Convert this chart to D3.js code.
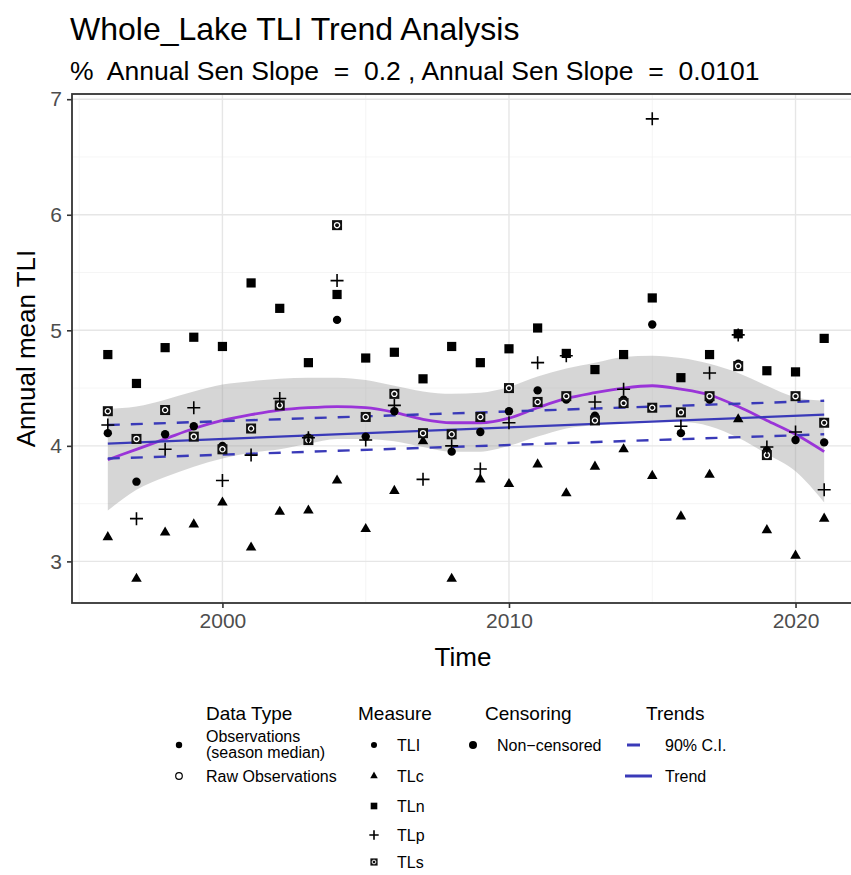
<!DOCTYPE html>
<meta charset="utf-8">
<style>
body { margin: 0; background: #fff; }
text { font-family: "Liberation Sans", Arial, sans-serif; }
</style>
<body>
<script src="https://cdnjs.cloudflare.com/ajax/libs/d3/7.8.5/d3.min.js"></script>
<script>
var years = [1996, 1997, 1998, 1999, 2000, 2001, 2002, 2003, 2004, 2005, 2006, 2007, 2008,
             2009, 2010, 2011, 2012, 2013, 2014, 2015, 2016, 2017, 2018, 2019, 2020, 2021];

var tli = [4.11, 3.69, 4.10, 4.17, 4.00, 4.15, 4.35, 4.07, 5.09, 4.08, 4.30, 4.11, 3.95,
           4.12, 4.30, 4.48, 4.40, 4.26, 4.40, 5.05, 4.11, 4.40, 4.71, 3.96, 4.05, 4.03];
var tlc = [3.21, 2.85, 3.25, 3.32, 3.51, 3.12, 3.43, 3.44, 3.70, 3.28, 3.61, 4.04, 2.85,
           3.71, 3.67, 3.84, 3.59, 3.82, 3.97, 3.74, 3.39, 3.75, 4.23, 3.27, 3.05, 3.37];
var tln = [4.79, 4.54, 4.85, 4.94, 4.86, 5.41, 5.19, 4.72, 5.31, 4.76, 4.81, 4.58, 4.86,
           4.72, 4.84, 5.02, 4.80, 4.66, 4.79, 5.28, 4.59, 4.79, 4.97, 4.65, 4.64, 4.93];
var tlp = [4.18, 3.37, 3.97, 4.33, 3.70, 3.92, 4.41, 4.07, 5.43, 4.05, 4.35, 3.71, 4.00,
           3.80, 4.20, 4.72, 4.78, 4.38, 4.49, 6.83, 4.17, 4.63, 4.96, 3.99, 4.12, 3.62];
var tls = [4.30, 4.06, 4.31, 4.08, 3.97, 4.15, 4.35, 4.05, 5.91, 4.25, 4.45, 4.11, 4.10,
           4.25, 4.50, 4.38, 4.43, 4.22, 4.37, 4.33, 4.29, 4.43, 4.69, 3.92, 4.43, 4.20];

// loess smooth and its band, read per year
var smoothFit = [3.88, 3.97, 4.06, 4.15, 4.22, 4.27, 4.31, 4.33, 4.34, 4.33, 4.29, 4.23, 4.20,
                 4.20, 4.24, 4.33, 4.41, 4.46, 4.50, 4.52, 4.49, 4.44, 4.34, 4.22, 4.10, 3.95];
var smoothLo = [3.44, 3.62, 3.73, 3.82, 3.89, 3.94, 3.97, 4.02, 4.06, 4.06, 4.04, 3.99, 3.95,
                3.95, 4.00, 4.08, 4.15, 4.18, 4.21, 4.22, 4.21, 4.17, 4.07, 3.93, 3.78, 3.51];
var smoothHi = [4.32, 4.34, 4.40, 4.47, 4.53, 4.56, 4.58, 4.59, 4.59, 4.57, 4.52, 4.47, 4.45,
                4.46, 4.51, 4.60, 4.67, 4.72, 4.77, 4.78, 4.76, 4.71, 4.63, 4.52, 4.42, 4.39];

// sen slope trend and 90% CI, values at first and last year
var trendYears = [1996, 2021];
var trendLine = [4.02, 4.27];
var ciLower = [3.89, 4.10];
var ciUpper = [4.18, 4.39];

var xTicks = [2000, 2010, 2020];
var xMinor = [1995, 2005, 2015];
var yTicks = [3, 4, 5, 6, 7];
var yMinor = [3.5, 4.5, 5.5, 6.5];

var measureNames = ['TLI', 'TLc', 'TLn', 'TLp', 'TLs'];
var dataTypeNames = ['Observations\n(season median)', 'Raw Observations'];
var trendNames = ['90% C.I.', 'Trend'];

var width = 851, height = 875;
var panel = {left: 72, right: 860, top: 94, bottom: 603};

var x = d3.scaleLinear().domain([1994.75, 2022.25]).range([panel.left, panel.right]);
var y = d3.scaleLinear().domain([2.64, 7.045]).range([panel.bottom, panel.top]);

var svg = d3.select('body').append('svg')
    .attr('width', width)
    .attr('height', height);

svg.append('defs').append('clipPath').attr('id', 'clip')
  .append('rect')
    .attr('x', panel.left).attr('y', panel.top)
    .attr('width', panel.right - panel.left).attr('height', panel.bottom - panel.top);

// grid
var grid = svg.append('g');
grid.selectAll('.ymin').data(yMinor).enter().append('line')
    .attr('x1', panel.left).attr('x2', panel.right)
    .attr('y1', y).attr('y2', y)
    .attr('stroke', '#f2f2f2').attr('stroke-width', 0.8);
grid.selectAll('.xmin').data(xMinor).enter().append('line')
    .attr('y1', panel.top).attr('y2', panel.bottom)
    .attr('x1', x).attr('x2', x)
    .attr('stroke', '#f2f2f2').attr('stroke-width', 0.8);
grid.selectAll('.ymaj').data(yTicks).enter().append('line')
    .attr('x1', panel.left).attr('x2', panel.right)
    .attr('y1', y).attr('y2', y)
    .attr('stroke', '#e6e6e6').attr('stroke-width', 1.4);
grid.selectAll('.xmaj').data(xTicks).enter().append('line')
    .attr('y1', panel.top).attr('y2', panel.bottom)
    .attr('x1', x).attr('x2', x)
    .attr('stroke', '#e6e6e6').attr('stroke-width', 1.4);

var plot = svg.append('g').attr('clip-path', 'url(#clip)');

// smooth ribbon + line
var band = d3.area()
    .x(function(d, i) { return x(years[i]); })
    .y0(function(d, i) { return y(smoothLo[i]); })
    .y1(function(d, i) { return y(smoothHi[i]); })
    .curve(d3.curveMonotoneX);

plot.append('path')
    .datum(years)
    .attr('d', band)
    .attr('fill', '#999')
    .attr('fill-opacity', 0.4);

var smoothLine = d3.line()
    .x(function(d, i) { return x(years[i]); })
    .y(function(d) { return y(d); })
    .curve(d3.curveMonotoneX);

plot.append('path')
    .datum(smoothFit)
    .attr('d', smoothLine)
    .attr('fill', 'none')
    .attr('stroke', '#9a34d8')
    .attr('stroke-width', 2.8);

var straight = d3.line()
    .x(function(d, i) { return x(trendYears[i]); })
    .y(function(d) { return y(d); });

[ciLower, ciUpper].forEach(function(ci) {
  plot.append('path')
      .datum(ci)
      .attr('d', straight)
      .attr('fill', 'none')
      .attr('stroke', '#3a3ab8')
      .attr('stroke-width', 2.4)
      .attr('stroke-dasharray', '12,11');
});

plot.append('path')
    .datum(trendLine)
    .attr('d', straight)
    .attr('fill', 'none')
    .attr('stroke', '#3a3ab8')
    .attr('stroke-width', 2.2);

// point glyphs
function glyph(g, shape, s) {
  if (shape === 'TLI') {
    g.append('circle').attr('r', 4.2 * s).attr('fill', '#000');
  } else if (shape === 'TLc') {
    g.append('path').attr('d', d3.symbol().type(d3.symbolTriangle).size(48 * s * s)).attr('fill', '#000');
  } else if (shape === 'TLn') {
    g.append('rect').attr('x', -4.6 * s).attr('y', -4.6 * s)
        .attr('width', 9.2 * s).attr('height', 9.2 * s).attr('fill', '#000');
  } else if (shape === 'TLp') {
    var r = 6.5 * s;
    g.append('path').attr('d', 'M' + (-r) + ',0H' + r + 'M0,' + (-r) + 'V' + r)
        .attr('stroke', '#000').attr('stroke-width', 1.6).attr('fill', 'none');
  } else if (shape === 'TLs') {
    g.append('rect').attr('x', -5 * s).attr('y', -5 * s)
        .attr('width', 10 * s).attr('height', 10 * s).attr('fill', '#111');
    g.append('circle').attr('r', 2.6 * s).attr('fill', 'none')
        .attr('stroke', '#fff').attr('stroke-width', 1.3 * s);
  }
}

var measures = [
  {key: 'TLI', values: tli},
  {key: 'TLc', values: tlc},
  {key: 'TLn', values: tln},
  {key: 'TLs', values: tls},
  {key: 'TLp', values: tlp}
];

measures.forEach(function(m) {
  plot.selectAll('.pt-' + m.key)
      .data(m.values)
    .enter().append('g')
      .attr('class', 'pt-' + m.key)
      .attr('transform', function(d, i) { return 'translate(' + x(years[i]) + ',' + y(d) + ')'; })
      .each(function() { glyph(d3.select(this), m.key, 1); });
});

// panel border
svg.append('rect')
    .attr('x', panel.left).attr('y', panel.top)
    .attr('width', panel.right - panel.left).attr('height', panel.bottom - panel.top)
    .attr('fill', 'none').attr('stroke', '#333').attr('stroke-width', 1.8);

// axes
var xAxis = d3.axisBottom(x).tickValues(xTicks).tickSize(5).tickPadding(5).tickFormat(d3.format('d'));
var yAxis = d3.axisLeft(y).tickValues(yTicks).tickSize(5).tickPadding(5).tickFormat(d3.format('d'));

var gx = svg.append('g')
    .attr('transform', 'translate(0,' + panel.bottom + ')')
    .call(xAxis);
var gy = svg.append('g')
    .attr('transform', 'translate(' + panel.left + ',0)')
    .call(yAxis);

[gx, gy].forEach(function(g) {
  g.select('.domain').remove();
  g.selectAll('line').attr('stroke', '#333').attr('stroke-width', 1.6);
  g.selectAll('text')
      .attr('fill', '#4d4d4d')
      .style('font-size', '21px')
      .style('font-family', '"Liberation Sans", Arial, sans-serif');
});

svg.append('text')
    .attr('x', 463)
    .attr('y', 666)
    .attr('text-anchor', 'middle')
    .style('font-size', '26px')
    .text('Time');

svg.append('text')
    .attr('transform', 'translate(35,' + (panel.top + panel.bottom) / 2 + ') rotate(-90)')
    .attr('text-anchor', 'middle')
    .style('font-size', '26px')
    .text('Annual mean TLI');

svg.append('text')
    .attr('x', 70).attr('y', 40)
    .style('font-size', '32px')
    .text('Whole_Lake TLI Trend Analysis');

svg.append('text')
    .attr('x', 70).attr('y', 80)
    .style('font-size', '26.5px')
    .attr('xml:space', 'preserve')
    .text('%  Annual Sen Slope  =  0.2 , Annual Sen Slope  =  0.0101');

// legend
var legend = svg.append('g').style('font-size', '16px');

function legendTitle(tx, label) {
  legend.append('text').attr('x', tx).attr('y', 720).style('font-size', '19px').text(label);
}

legendTitle(206, 'Data Type');
legendTitle(358, 'Measure');
legendTitle(485, 'Censoring');
legendTitle(646, 'Trends');

var rowY = [745, 776, 806, 835, 862];

// data type
legend.append('circle').attr('cx', 179).attr('cy', rowY[0]).attr('r', 3.2).attr('fill', '#000');
legend.append('circle').attr('cx', 179).attr('cy', rowY[1]).attr('r', 3.3)
    .attr('fill', 'none').attr('stroke', '#000').attr('stroke-width', 1.2);
dataTypeNames[0].split('\n').forEach(function(line, i) {
  legend.append('text').attr('x', 206).attr('y', rowY[0] - 3 + i * 16).text(line);
});
legend.append('text').attr('x', 206).attr('y', rowY[1] + 6).text(dataTypeNames[1]);

// measure
measureNames.forEach(function(name, i) {
  var g = legend.append('g').attr('transform', 'translate(374,' + rowY[i] + ')');
  glyph(g, name, 0.72);
  legend.append('text').attr('x', 397).attr('y', rowY[i] + 6).text(name);
});

// censoring
legend.append('circle').attr('cx', 473).attr('cy', rowY[0]).attr('r', 4).attr('fill', '#000');
legend.append('text').attr('x', 497).attr('y', rowY[0] + 6).text('Non\u2212censored');

// trends
legend.append('line')
    .attr('x1', 627).attr('x2', 640).attr('y1', rowY[0]).attr('y2', rowY[0])
    .attr('stroke', '#3a3ab8').attr('stroke-width', 3);
legend.append('line')
    .attr('x1', 625).attr('x2', 652).attr('y1', rowY[1]).attr('y2', rowY[1])
    .attr('stroke', '#3a3ab8').attr('stroke-width', 3);
trendNames.forEach(function(name, i) {
  legend.append('text').attr('x', 665).attr('y', rowY[i] + 6).text(name);
});
</script>
</body>
